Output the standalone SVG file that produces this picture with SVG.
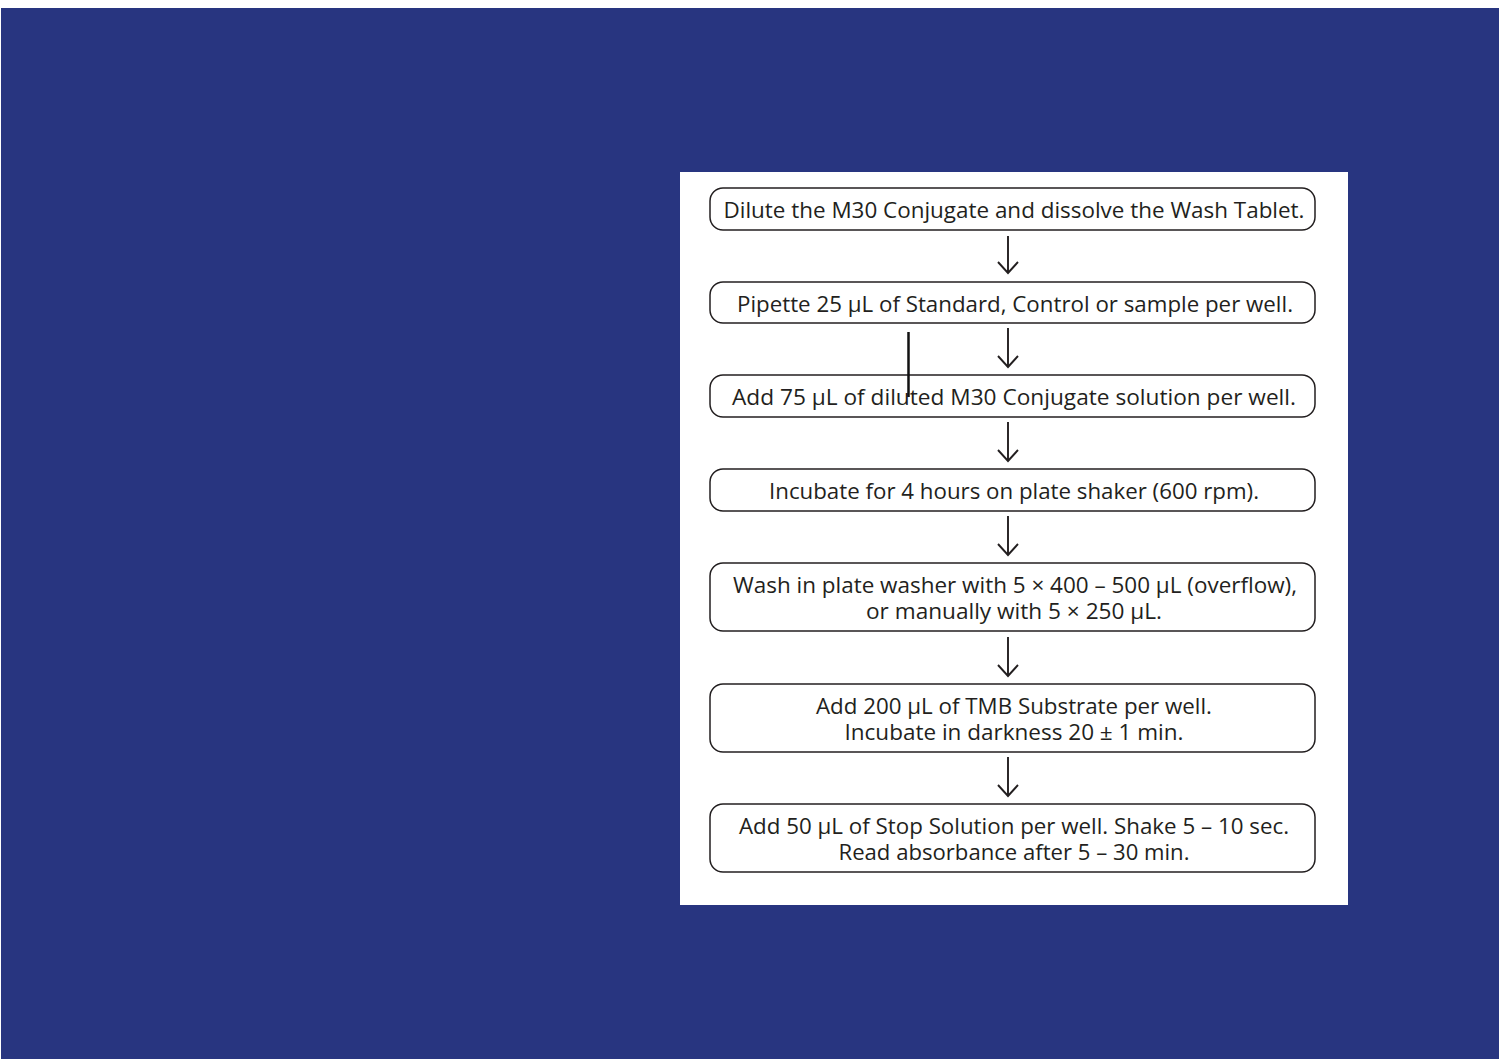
<svg xmlns="http://www.w3.org/2000/svg" width="1500" height="1060" viewBox="0 0 1500 1060">
<style>
.box{fill:#fff;stroke:#231f20;stroke-width:1.5}
.t{font-family:"Open Sans","Noto Sans",sans-serif;font-size:22px;fill:#231f20;text-anchor:middle}
.c{stroke:#231f20;stroke-width:1.9;fill:none}
</style>
<rect x="0" y="0" width="1500" height="1060" fill="#fff"/>
<rect x="1" y="8" width="1498" height="1051" fill="#283580"/>
<rect x="680" y="172" width="668" height="733" fill="#fff"/>
<g id="n1"><rect class="box" x="710" y="188" width="605" height="42" rx="13"/><text class="t" x="1014" y="218" textLength="581" lengthAdjust="spacingAndGlyphs">Dilute the M30 Conjugate and dissolve the Wash Tablet.</text></g>
<g id="n2"><rect class="box" x="710" y="282" width="605" height="41" rx="13"/><text class="t" x="1015" y="312" textLength="556" lengthAdjust="spacingAndGlyphs">Pipette 25 µL of Standard, Control or sample per well.</text></g>
<g id="n3"><rect class="box" x="710" y="375" width="605" height="42" rx="13"/><text class="t" x="1014" y="405" textLength="564" lengthAdjust="spacingAndGlyphs">Add 75 µL of diluted M30 Conjugate solution per well.</text></g>
<g id="n4"><rect class="box" x="710" y="469" width="605" height="42" rx="13"/><text class="t" x="1014" y="499" textLength="490" lengthAdjust="spacingAndGlyphs">Incubate for 4 hours on plate shaker (600 rpm).</text></g>
<g id="n5"><rect class="box" x="710" y="563" width="605" height="68" rx="13"/><text class="t" x="1015" y="593" textLength="564" lengthAdjust="spacingAndGlyphs">Wash in plate washer with 5 × 400 – 500 µL (overflow),</text><text class="t" x="1014" y="619" textLength="296" lengthAdjust="spacingAndGlyphs">or manually with 5 × 250 µL.</text></g>
<g id="n6"><rect class="box" x="710" y="684" width="605" height="68" rx="13"/><text class="t" x="1014" y="714" textLength="396" lengthAdjust="spacingAndGlyphs">Add 200 µL of TMB Substrate per well.</text><text class="t" x="1014" y="740" textLength="339" lengthAdjust="spacingAndGlyphs">Incubate in darkness 20 ± 1 min.</text></g>
<g id="n7"><rect class="box" x="710" y="804" width="605" height="68" rx="13"/><text class="t" x="1014" y="834" textLength="550" lengthAdjust="spacingAndGlyphs">Add 50 µL of Stop Solution per well. Shake 5 – 10 sec.</text><text class="t" x="1014" y="860" textLength="351" lengthAdjust="spacingAndGlyphs">Read absorbance after 5 – 30 min.</text></g>
<g id="connectors">
<path class="c" d="M1008 236V273M998 262L1008 273L1018 262"/>
<path class="c" d="M1008 328V367M998 356L1008 367L1018 356"/>
<path class="c" d="M1008 422V461M998 450L1008 461L1018 450"/>
<path class="c" d="M1008 516V555M998 544L1008 555L1018 544"/>
<path class="c" d="M1008 637V676M998 665L1008 676L1018 665"/>
<path class="c" d="M1008 757V796M998 785L1008 796L1018 785"/>
</g>
<line x1="908.5" y1="332" x2="908.5" y2="397" stroke="#111" stroke-width="2.5"/>
</svg>
